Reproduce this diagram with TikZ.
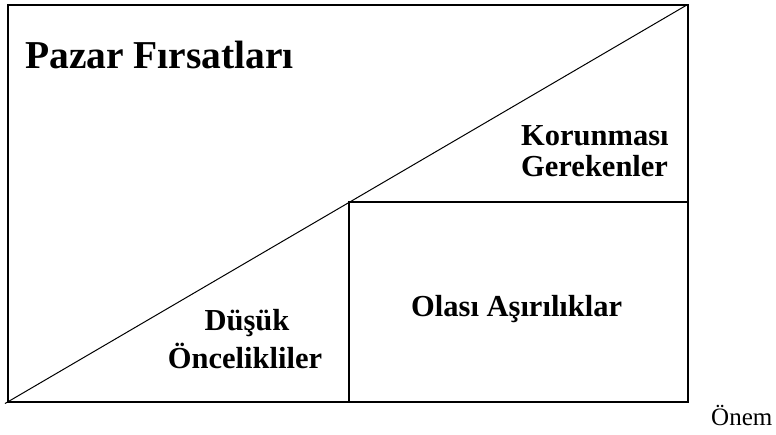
\documentclass[tikz,border=0pt]{standalone}
\usepackage{fontspec}
\setmainfont{Liberation Serif}
\begin{document}
\begin{tikzpicture}[x=1pt,y=-1pt,
  frame/.style={line width=2pt},
  diag/.style={line width=1pt},
  bigt/.style={font=\bfseries\fontsize{39.5}{44}\selectfont, inner sep=0pt},
  lbl/.style={font=\bfseries\fontsize{30.5}{31}\selectfont, inner sep=0pt},
  axis/.style={font=\fontsize{25}{28}\selectfont, inner sep=0pt}]
\useasboundingbox (0,0) rectangle (776,434);
\coordinate (tl) at (8,4.5);
\coordinate (br) at (688,401.5);
\coordinate (ic) at (349,202);
\coordinate (ir) at (688,202);
\coordinate (ib) at (349,401.5);
\coordinate (ds) at (5,403.5);
\coordinate (de) at (686,5.5);
\draw[frame] (tl) rectangle (br);
\draw[frame] (ir) -- (ic) -- (ib);
\draw[diag] (ds) -- (de);
\node[bigt, anchor=base west] (pf) at (25,68) {Pazar Fırsatları};
\node[lbl, anchor=base west] (k1) at (521,145.5) {Korunması};
\node[lbl, anchor=base west] (k2) at (521,176) {Gerekenler};
\node[lbl, anchor=base west] (oa) at (411,316) {Olası Aşırılıklar};
\node[lbl, anchor=base] (d1) at (247,330) {Düşük};
\node[lbl, anchor=base] (d2) at (245,368) {Öncelikliler};
\node[axis, anchor=base west] (on) at (711,425) {Önem};
\end{tikzpicture}
\end{document}
